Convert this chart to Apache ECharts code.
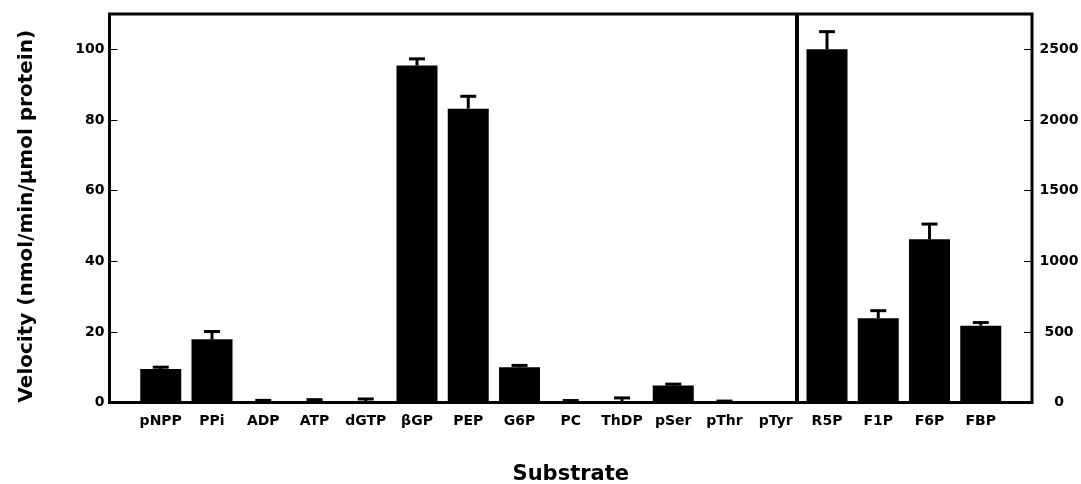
<!DOCTYPE html>
<html>
<head>
<meta charset="utf-8">
<script src="https://cdn.jsdelivr.net/npm/echarts@6/dist/echarts.min.js"></script>
<style>
  html, body { margin: 0; padding: 0; background: #fff; }
  #chart { width: 1081px; height: 484px; }
</style>
</head>
<body>
<div id="chart"></div>
<script>
// Substrates: the first group is read on the left axis, the sugar phosphates on the right axis
const categories = ['pNPP', 'PPi', 'ADP', 'ATP', 'dGTP', 'βGP', 'PEP', 'G6P', 'PC', 'ThDP', 'pSer', 'pThr', 'pTyr', 'R5P', 'F1P', 'F6P', 'FBP'];
const leftVelocity = [9.5, 17.9, 0.2, 0.3, 0.2, 95.4, 83.2, 10.0, 0.2, 0.2, 4.8, 0.1, 0];
const leftError = [0.5, 2.2, 0.4, 0.5, 0.8, 1.9, 3.5, 0.5, 0.35, 1.1, 0.4, 0.3, 0];
const rightVelocity = [2500, 596, 1155, 544];
const rightError = [125, 54, 108, 22];
const leftTicks = [0, 20, 40, 60, 80, 100];
const rightTicks = [0, 500, 1000, 1500, 2000, 2500];
// boundary between the two substrate groups, in category units
const groupBoundary = 12.4;

const FONT = 'DejaVu Sans';
const nLeft = leftVelocity.length;

const leftBars = leftVelocity.map((v, i) => [i, v]);
const rightBars = rightVelocity.map((v, i) => [nLeft + i, v]);
const leftErr = leftVelocity.map((v, i) => [i, v, leftError[i]]);
const rightErr = rightVelocity.map((v, i) => [nLeft + i, v, rightError[i]]);

function renderErrorBar(params, api) {
  const x = api.value(0), v = api.value(1), e = api.value(2);
  if (!e) return null;
  const base = api.coord([x, v]);
  const top = api.coord([x, v + e]);
  const half = 8;
  const style = { stroke: '#000', lineWidth: 3 };
  return {
    type: 'group',
    children: [
      { type: 'line', shape: { x1: base[0], y1: base[1], x2: top[0], y2: top[1] }, style: style },
      { type: 'line', shape: { x1: top[0] - half, y1: top[1], x2: top[0] + half, y2: top[1] }, style: style }
    ]
  };
}

const chart = echarts.init(document.getElementById('chart'), null, { renderer: 'canvas' });
chart.setOption({
  animation: false,
  backgroundColor: '#fff',
  grid: {
    left: 109.5, right: 49, top: 14, bottom: 81.5,
    containLabel: false, outerBoundsMode: 'none',
    show: true, borderWidth: 3, borderColor: '#000', backgroundColor: 'transparent'
  },
  xAxis: {
    type: 'value',
    min: -1, max: categories.length,
    interval: 1,
    name: 'Substrate',
    nameLocation: 'middle',
    nameGap: 62,
    nameTextStyle: { fontFamily: FONT, fontWeight: 'bold', fontSize: 21, color: '#000' },
    axisLine: { show: false, onZero: false },
    axisTick: { show: false },
    splitLine: { show: false },
    axisLabel: {
      margin: 12,
      fontFamily: FONT, fontWeight: 'bold', fontSize: 14, color: '#000',
      formatter: v => (categories[v] !== undefined ? categories[v] : '')
    }
  },
  yAxis: [
    {
      type: 'value', min: 0, max: 110, interval: 20,
      position: 'left',
      name: 'Velocity (nmol/min/µmol protein)',
      nameLocation: 'middle',
      nameGap: 73,
      nameRotate: 90,
      nameTextStyle: { fontFamily: FONT, fontWeight: 'bold', fontSize: 20, color: '#000', padding: [0, 16, 0, 0] },
      axisLine: { show: false, onZero: false },
      axisTick: { show: true, inside: true, length: 8, lineStyle: { color: '#000', width: 1 } },
      splitLine: { show: false },
      axisLabel: {
        margin: 5,
        fontFamily: FONT, fontWeight: 'bold', fontSize: 14, color: '#000',
        formatter: v => (leftTicks.indexOf(v) >= 0 ? String(v) : '')
      }
    },
    {
      type: 'value', min: 0, max: 2750, interval: 500,
      position: 'right',
      axisLine: { show: false, onZero: false },
      axisTick: { show: true, inside: true, length: 8, lineStyle: { color: '#000', width: 1 } },
      splitLine: { show: false },
      axisLabel: {
        margin: 27, align: 'center',
        fontFamily: FONT, fontWeight: 'bold', fontSize: 14, color: '#000',
        formatter: v => (rightTicks.indexOf(v) >= 0 ? String(v) : '')
      }
    }
  ],
  series: [
    {
      type: 'bar', yAxisIndex: 0, data: leftBars,
      barWidth: 41, barGap: '-100%',
      itemStyle: { color: '#000' },
      markLine: {
        silent: true, symbol: 'none', animation: false,
        label: { show: false },
        lineStyle: { color: '#000', width: 4, type: 'solid' },
        data: [{ xAxis: groupBoundary }]
      }
    },
    {
      type: 'bar', yAxisIndex: 1, data: rightBars,
      barWidth: 41, barGap: '-100%',
      itemStyle: { color: '#000' }
    },
    { type: 'custom', yAxisIndex: 0, data: leftErr, renderItem: renderErrorBar, z: 3 },
    { type: 'custom', yAxisIndex: 1, data: rightErr, renderItem: renderErrorBar, z: 3 }
  ]
});
</script>
</body>
</html>
